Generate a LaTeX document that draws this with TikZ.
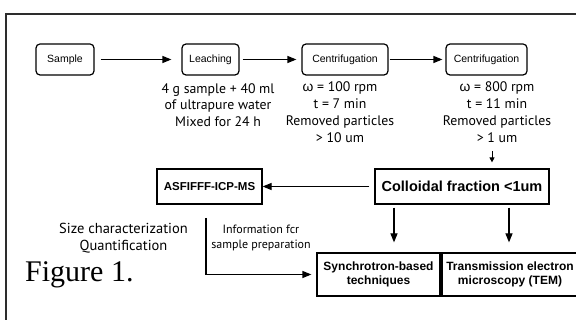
\documentclass[tikz,border=0pt]{standalone}
\usepackage{fontspec}
\setmainfont{Liberation Serif}
\newfontfamily\boxfont{Liberation Sans}
\newfontfamily\notefont{PT Sans}
\usetikzlibrary{arrows.meta, positioning}
\definecolor{marco}{RGB}{45,45,45}
\tikzset{
  stagebox/.style={rectangle, draw=black, rounded corners=4pt, line width=1.2pt,
                   minimum height=31pt, font=\boxfont\fontsize{10.5}{12}\selectfont},
  techbox/.style={rectangle, draw=black, line width=1.2pt, align=center, inner sep=2pt,
                  font=\boxfont\bfseries\fontsize{12}{14}\selectfont},
  note/.style={align=center, inner sep=0pt, font=\notefont\fontsize{13.8}{16.8}\selectfont},
  flow/.style={-{Triangle[length=9pt, width=7pt]}, line width=1.2pt},
  flowsmall/.style={-{Triangle[length=5pt, width=5pt]}, line width=0.9pt}
}
\newcommand{\omg}{{\boxfont ω}}
\begin{document}
\begin{tikzpicture}[x=1pt, y=-1pt]
    \useasboundingbox (0,0) rectangle (576,320);
    \draw[marco, line width=2pt] (6,322) -- (6,14) -- (578,14);
    \node[stagebox, minimum width=58pt] (sample) at (65,59.5) {Sample};
    \node[stagebox, minimum width=57pt] (leach) at (210.5,59.5) {Leaching};
    \node[stagebox, minimum width=86pt] (cent1) at (345,59.5) {Centrifugation};
    \node[stagebox, minimum width=81pt] (cent2) at (486.5,59.5) {Centrifugation};
    \node[note] (leachnote) at (218,105) {4 g sample + 40 ml\\of ultrapure water\\Mixed for 24 h};
    \node[note] (cent1note) at (340,112) {\omg{} = 100 rpm\\t = 7 min\\Removed particles\\> 10 um};
    \node[note] (cent2note) at (497,112) {\omg{} = 800 rpm\\t = 11 min\\Removed particles\\> 1 um};
    \node[techbox, minimum width=174pt, minimum height=35pt,
          font=\boxfont\bfseries\fontsize{14.5}{16}\selectfont] (coll) at (462,186.5) {Colloidal fraction <1um};
    \node[techbox, minimum width=105pt, minimum height=35pt,
          font=\boxfont\bfseries\fontsize{11.5}{13}\selectfont] (asf) at (209.5,186.5) {ASFIFFF-ICP-MS};
    \node[techbox, minimum width=123pt, minimum height=43pt] (sync) at (378.5,274.5) {Synchrotron-based\\techniques};
    \node[techbox, minimum width=136pt, minimum height=43pt] (tem) at (510,274.5) {Transmission electron\\microscopy (TEM)};
    \node[note, font=\notefont\fontsize{14.5}{17}\selectfont] (sizenote) at (123.5,238.5) {Size characterization\\Quantification};
    \node[note, font=\notefont\fontsize{12}{15}\selectfont] (infonote) at (261,238) {Information fcr\\sample preparation};
    \node[anchor=base west, inner sep=0pt, font=\fontsize{30}{30}\selectfont] (caption) at (25,282) {Figure 1.};
    \coordinate (dropstart) at (492,151);
    \coordinate (infostart) at (206,218);
    \draw[flow, shorten <=6pt, shorten >=10pt] (sample) -- (leach);
    \draw[flow, shorten <=3pt, shorten >=5pt] (leach) -- (cent1);
    \draw[flow, shorten <=1pt, shorten >=3pt] (cent1) -- (cent2);
    \draw[flowsmall, shorten >=6pt] (dropstart) -- (dropstart |- coll.north);
    \draw[flow, shorten <=5pt] (coll) -- (asf);
    \draw[flow, shorten <=3pt, shorten >=10pt] (394,0 |- coll.south) -- (394,0 |- sync.north);
    \draw[flow, shorten <=3pt, shorten >=10pt] (509,0 |- coll.south) -- (509,0 |- tem.north);
    \draw[flow, shorten >=5pt] (infostart) |- (sync.west);
\end{tikzpicture}
\end{document}
